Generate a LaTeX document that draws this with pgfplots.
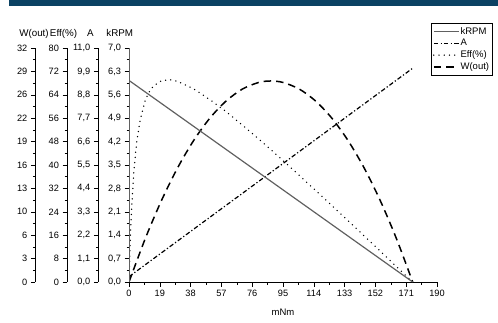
\documentclass[border=0pt]{standalone}
\usepackage{fontspec}
\setmainfont{Liberation Sans}
\usepackage{pgfplots}
\pgfplotsset{compat=1.18}
\definecolor{topbar}{HTML}{0B4263}
\definecolor{rpmgray}{HTML}{606060}
\pgfplotsset{
  common/.style={
    scale only axis, height=234pt,
    ymin=0,
    tick align=outside,
    major tick length=4.5pt, minor tick length=2.5pt,
    minor tick num=1,
    tick style={black, line width=0.6pt},
    axis line style={black, line width=0.8pt},
    tick label style={font=\fontsize{9.2}{10}\selectfont},
    /pgf/number format/assume math mode=true,
    every axis y label/.style={at={(axis description cs:0,1)}, anchor=base, yshift=11.5pt, font=\fontsize{9.8}{11}\selectfont},
  },
  yonly/.style={common, width=5pt, xmin=0, xmax=1, hide x axis, axis y line*=left},
  dataaxis/.style={scale only axis, width=308pt, height=234pt, xmin=0, xmax=190, ymin=0, hide axis},
}
\begin{document}
\begin{tikzpicture}[x=1pt,y=1pt]
\useasboundingbox (0,0) rectangle (498,322);
\fill[topbar] (9,316) rectangle (498,322);

% W(out) axis
\begin{axis}[yonly, at={(35.3pt,40pt)}, anchor=south west, ymax=32,
  ytick={0,3.2,6.4,9.6,12.8,16,19.2,22.4,25.6,28.8,32},
  yticklabel style={/pgf/number format/.cd, fixed, precision=0},
  ylabel={W(out)}, ylabel style={xshift=-1.3pt}]
\end{axis}
% Eff axis
\begin{axis}[yonly, at={(67pt,40pt)}, anchor=south west, ymax=80,
  ytick={0,8,16,24,32,40,48,56,64,72,80},
  yticklabel style={/pgf/number format/.cd, fixed, precision=0},
  ylabel={Eff(\%)}, ylabel style={xshift=-3.5pt}]
\end{axis}
% A axis
\begin{axis}[yonly, at={(98.3pt,40pt)}, anchor=south west, ymax=11,
  ytick={0,1.1,2.2,3.3,4.4,5.5,6.6,7.7,8.8,9.9,11},
  yticklabel style={/pgf/number format/.cd, fixed, fixed zerofill, precision=1, use comma},
  ylabel={A}, ylabel style={xshift=-7.8pt}]
\end{axis}

% W(out) data
\begin{axis}[dataaxis, at={(129pt,40pt)}, anchor=south west, ymax=32]
\addplot[black, line width=1.5pt, dash pattern=on 7.5pt off 5pt, smooth] coordinates {
(0,0) (10,5.92) (20,11.13) (30,15.62) (40,19.39) (50,22.44) (60,24.77) (70,26.39) (80,27.29) (87.5,27.49) (95,27.29) (105,26.39) (115,24.77) (125,22.44) (135,19.39) (145,15.62) (155,11.13) (165,5.92) (175,0)};
\end{axis}
% Eff data
\begin{axis}[dataaxis, at={(129pt,40pt)}, anchor=south west, ymax=80]
\addplot[black, line width=1.5pt, line cap=round, dash pattern=on 0pt off 5.2pt] coordinates {
(0,0) (0.5,9.5) (1,17.3) (1.5,23.7) (2,29.1) (3,37.6) (4,43.9) (5,48.8) (7,55.7) (10,62.0) (12,64.6) (15,67.0) (20,68.8) (25,69.2) (30,68.6) (40,66.0) (50,62.3) (60,58.2) (70,53.6) (80,48.9) (90,44.0) (100,39.0) (110,33.9) (120,28.8) (130,23.6) (140,18.4) (150,13.2) (160,7.9) (170,2.6) (175,0)};
\end{axis}
% A data
\begin{axis}[dataaxis, at={(129pt,40pt)}, anchor=south west, ymax=11]
\addplot[black, line width=1.2pt, dash pattern=on 4.5pt off 2.2pt on 1.2pt off 2.2pt] coordinates {(0,0.25) (175,10.05)};
\end{axis}

% main kRPM axis
\begin{axis}[common, at={(129pt,40pt)}, anchor=south west, width=308pt,
  xmin=0, xmax=190, ymax=7,
  axis x line*=bottom, axis y line*=left,
  y axis line style={rpmgray},
  xtick={0,19,38,57,76,95,114,133,152,171,190},
  ytick={0,0.7,1.4,2.1,2.8,3.5,4.2,4.9,5.6,6.3,7},
  yticklabel style={/pgf/number format/.cd, fixed, fixed zerofill, precision=1, use comma},
  xticklabel style={/pgf/number format/.cd, fixed, precision=0},
  ylabel={kRPM}, ylabel style={xshift=-9.3pt},
  xlabel={mNm},
  every axis x label/.style={at={(axis description cs:0.5,0)}, anchor=base, yshift=-33pt, font=\fontsize{9.5}{11}\selectfont},
  legend cell align=left,
  legend style={at={(axis description cs:0.9805,1.1056)}, anchor=north west,
    font=\fontsize{9.5}{10}\selectfont, draw=black, line width=0.6pt,
    inner xsep=1.8pt, inner ysep=3.2pt, row sep=2.6pt, column sep=0pt,
    nodes={inner xsep=1pt, inner ysep=0.5pt}},
  legend image code/.code={\draw[#1] (0pt,0pt) -- (25pt,0pt);},
]
\addplot[rpmgray, line width=1.2pt] coordinates {(0,6.03) (175,0)};
\addlegendentry{kRPM}
\addlegendimage{black, line width=1.2pt, dash pattern=on 4.5pt off 2.2pt on 1.2pt off 2.2pt}
\addlegendentry{A}
\addlegendimage{black, line width=1.5pt, line cap=round, dash pattern=on 0pt off 5.2pt}
\addlegendentry{Eff(\%)}
\addlegendimage{black, line width=1.5pt, dash pattern=on 7.5pt off 5pt}
\addlegendentry{W(out)}
\end{axis}
\end{tikzpicture}
\end{document}
